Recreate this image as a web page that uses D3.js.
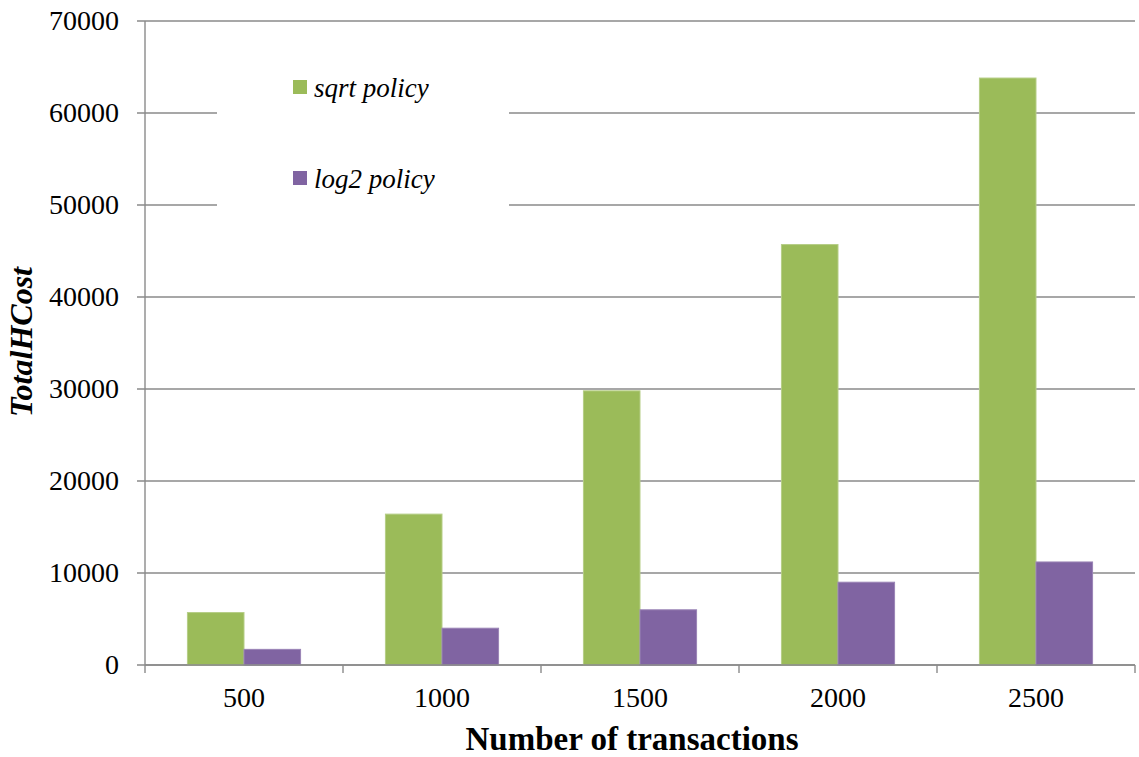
<!DOCTYPE html>
<html><head><meta charset="utf-8">
<script src="https://cdn.jsdelivr.net/npm/d3@7"></script>
<style>body{margin:0;background:#fff}svg{display:block}</style>
</head><body>
<svg id="c" width="1139" height="757"></svg>
<script>
const categories = ["500","1000","1500","2000","2500"];
const seriesNames = ["sqrt policy","log2 policy"];
const sqrtValues = [5700,16400,29800,45700,63800];
const log2Values = [1700,4000,6000,9000,11200];
const yTicks = [0,10000,20000,30000,40000,50000,60000,70000];
const colors = ["#9BBB59","#8064A2"];
const strokes = ["#b5cd86","#9a84b6"];

const svg = d3.select("#c");
const L=145,R=1135,T=21,B=665;
const font = "'Liberation Serif', serif";
const x = d3.scaleBand().domain(categories).range([L,R]).padding(0);
const xs = d3.scaleBand().domain(seriesNames).range([0,x.bandwidth()]).paddingInner(0).paddingOuter(0.75);
const y = d3.scaleLinear().domain([0,70000]).range([B,T]);
const grid="#8a8a8a";

// gridlines + y ticks
svg.append("g").selectAll("line").data(yTicks).join("line")
  .attr("x1",L-8).attr("x2",R).attr("y1",d=>y(d)).attr("y2",d=>y(d))
  .attr("stroke",grid).attr("stroke-width",1.4);
svg.append("g").selectAll("text").data(yTicks).join("text")
  .attr("x",119).attr("y",d=>y(d)).attr("dy","0.33em").attr("text-anchor","end")
  .attr("font-family",font).attr("font-size",28).attr("fill","#000").text(d=>d);

// legend box
svg.append("rect").attr("x",217).attr("y",42).attr("width",292).attr("height",178).attr("fill","#fff");
const lg = svg.append("g");
seriesNames.forEach((s,i)=>{
  const yy = 80 + i*91;
  lg.append("rect").attr("x",293).attr("y",yy).attr("width",14).attr("height",14).attr("fill",colors[i]);
  lg.append("text").attr("x",314).attr("y",yy+17).attr("font-family",font).attr("font-style","italic")
    .attr("font-size",27).attr("fill","#000").text(s);
});

// bars
const data = categories.map((c,i)=>({c, v:[sqrtValues[i],log2Values[i]]}));
const g = svg.append("g");
data.forEach(d=>{
  seriesNames.forEach((s,j)=>{
    g.append("rect").attr("x",x(d.c)+xs(s)).attr("width",xs.bandwidth())
      .attr("y",y(d.v[j])).attr("height",B-y(d.v[j]))
      .attr("fill",colors[j]).attr("stroke",strokes[j]).attr("stroke-width",1);
  });
});

// axes
svg.append("line").attr("x1",L).attr("x2",L).attr("y1",T).attr("y2",B).attr("stroke",grid).attr("stroke-width",1.4);
svg.append("line").attr("x1",L).attr("x2",R).attr("y1",B).attr("y2",B).attr("stroke",grid).attr("stroke-width",1.4);
const bounds = categories.map(c=>x(c)).concat([R]);
svg.append("g").selectAll("line").data(bounds).join("line")
  .attr("x1",d=>d).attr("x2",d=>d).attr("y1",B).attr("y2",B+8).attr("stroke",grid).attr("stroke-width",1.4);
svg.append("g").selectAll("text").data(categories).join("text")
  .attr("x",d=>x(d)+x.bandwidth()/2).attr("y",707).attr("text-anchor","middle")
  .attr("font-family",font).attr("font-size",28).attr("fill","#000").text(d=>d);

// titles
svg.append("text").attr("x",632).attr("y",750).attr("text-anchor","middle")
  .attr("font-family",font).attr("font-weight","bold").attr("font-size",33).attr("fill","#000")
  .text("Number of transactions");
svg.append("text").attr("transform","translate(32,342) rotate(-90)").attr("text-anchor","middle")
  .attr("font-family",font).attr("font-weight","bold").attr("font-style","italic").attr("font-size",32).attr("fill","#000")
  .text("TotalHCost");
</script>
</body></html>
